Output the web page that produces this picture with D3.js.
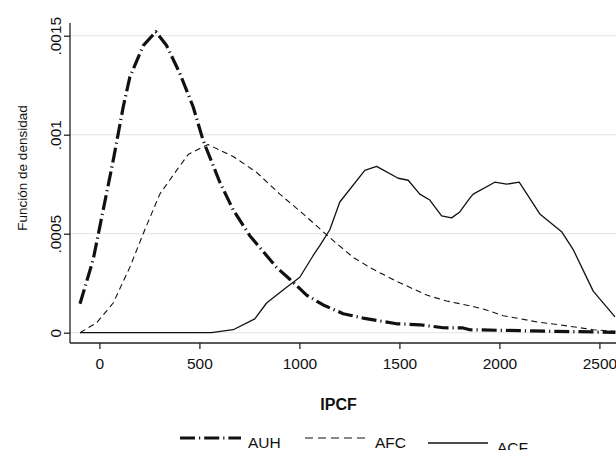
<!DOCTYPE html>
<html>
<head>
<meta charset="utf-8">
<script src="https://cdn.jsdelivr.net/npm/d3@7"></script>
<style>
  body { margin: 0; background: #fff; }
  svg { display: block; font-family: "Liberation Sans", Arial, sans-serif; }
</style>
</head>
<body>
<svg id="chart"></svg>
<script>
// density estimates: [IPCF, density]
const auh = [[-97,0.000146],[-31,0.00037],[19,0.00062],[69,0.00087],[119,0.00114],[152,0.00129],
  [219,0.00145],[282,0.00152],[336,0.00145],[402,0.00131],[469,0.00114],[519,0.00097],[602,0.00076],
  [669,0.00062],[752,0.00049],[802,0.00043],[886,0.00033],[952,0.00027],[1036,0.00019],[1119,0.00014],
  [1219,0.000096],[1318,0.000074],[1486,0.000045],[1602,0.00004],[1719,0.000025],[1818,0.000024],
  [1852,0.000015],[2268,0.000007],[2580,0.000002]];
const afc = [[-97,0],[-14,0.00005],[69,0.00015],[152,0.00033],[219,0.0005],[302,0.0007],[386,0.00082],
  [444,0.0009],[502,0.00093],[544,0.00095],[669,0.00089],[786,0.00081],[902,0.0007],[1019,0.0006],
  [1152,0.00048],[1269,0.00038],[1369,0.00032],[1486,0.00026],[1636,0.00019],[1736,0.00016],
  [1852,0.000136],[1919,0.00012],[2019,0.000086],[2202,0.000052],[2302,0.00004],[2469,0.000015],
  [2580,0.000007]];
const acf = [[-97,0],[560,0],[669,0.000015],[777,0.00007],[836,0.00015],[936,0.00023],[1002,0.00028],
  [1069,0.00039],[1102,0.00044],[1152,0.00052],[1202,0.00066],[1327,0.00082],[1386,0.00084],
  [1494,0.00078],[1544,0.00077],[1602,0.0007],[1652,0.00067],[1711,0.00059],[1761,0.00058],
  [1802,0.00061],[1852,0.00068],[1869,0.0007],[1977,0.00076],[2036,0.00075],[2099,0.00076],
  [2202,0.0006],[2311,0.00051],[2369,0.00042],[2469,0.00021],[2578,0.00008]];

const xTicks = [0, 500, 1000, 1500, 2000, 2500];
const yTicks = [0, 0.0005, 0.001, 0.0015];
const yTickLabels = ["0", ".0005", ".001", ".0015"];
const seriesNames = ["AUH", "AFC", "ACF"];

const W = 616, H = 450;
const svg = d3.select("#chart").attr("width", W).attr("height", H);

const x = d3.scaleLinear().domain([0, 2500]).range([99.4, 599.4]);
const y = d3.scaleLinear().domain([0, 0.0015]).range([332.7, 35.7]);

const axisX = 70, axisY = 343;

// gridlines
svg.append("g").selectAll("line")
  .data(yTicks)
  .enter().append("line")
  .attr("x1", axisX).attr("x2", W)
  .attr("y1", d => y(d)).attr("y2", d => y(d))
  .attr("stroke", "#e3eaea")
  .attr("stroke-width", 1.3);

// y axis
const gy = svg.append("g")
  .attr("transform", `translate(${axisX},0)`)
  .call(d3.axisLeft(y).tickValues(yTicks).tickSize(6).tickPadding(3)
    .tickFormat((d, i) => yTickLabels[i]));
gy.select(".domain").remove();
gy.append("line").attr("y1", 23).attr("y2", axisY).attr("stroke", "#222").attr("stroke-width", 1.3);
gy.selectAll(".tick line").attr("stroke", "#222").attr("stroke-width", 1.3);
gy.selectAll(".tick text")
  .attr("font-size", 15.5).attr("fill", "#111")
  .attr("transform", "rotate(-90)")
  .attr("x", 0).attr("y", -9)
  .attr("dy", 0)
  .attr("text-anchor", "middle");

// x axis
const gx = svg.append("g")
  .attr("transform", `translate(0,${axisY})`)
  .call(d3.axisBottom(x).tickValues(xTicks).tickSize(6).tickPadding(4).tickFormat(d3.format("d")));
gx.select(".domain").remove();
gx.append("line").attr("x1", axisX).attr("x2", W).attr("stroke", "#222").attr("stroke-width", 1.3);
gx.selectAll(".tick line").attr("stroke", "#222").attr("stroke-width", 1.3);
gx.selectAll(".tick text").attr("font-size", 15.5).attr("fill", "#111")
  .attr("y", 26).attr("dy", 0);

// axis titles
svg.append("text")
  .attr("x", 338.5).attr("y", 410)
  .attr("text-anchor", "middle")
  .attr("font-size", 16).attr("font-weight", "bold")
  .attr("fill", "#111")
  .text("IPCF");

svg.append("text")
  .attr("transform", "translate(27,168) rotate(-90)")
  .attr("text-anchor", "middle")
  .attr("font-size", 13.5)
  .attr("fill", "#111")
  .text("Función de densidad");

// lines
const styles = [
  { data: auh, width: 3.2, dash: "15,4,1.2,4" },
  { data: afc, width: 1.1, dash: "6,4" },
  { data: acf, width: 1.3, dash: null }
];
const line = d3.line().x(d => x(d[0])).y(d => y(d[1]));

styles.forEach(s => {
  svg.append("path")
    .datum(s.data)
    .attr("fill", "none")
    .attr("stroke", "#111")
    .attr("stroke-width", s.width)
    .attr("stroke-linejoin", "round")
    .attr("stroke-dasharray", s.dash)
    .attr("d", line);
});

// legend
const legendItems = [
  { x1: 180, x2: 241, ly: 438, tx: 248, ty: 448 },
  { x1: 305, x2: 366, ly: 438, tx: 375, ty: 448 },
  { x1: 428, x2: 488, ly: 443, tx: 497, ty: 453 }
];
const legend = svg.append("g");
legendItems.forEach((p, i) => {
  legend.append("line")
    .attr("x1", p.x1).attr("x2", p.x2)
    .attr("y1", p.ly).attr("y2", p.ly)
    .attr("stroke", "#111")
    .attr("stroke-width", styles[i].width)
    .attr("stroke-dasharray", i === 1 ? "8,5" : styles[i].dash);
  legend.append("text")
    .attr("x", p.tx).attr("y", p.ty)
    .attr("font-size", 15.5).attr("fill", "#111")
    .text(seriesNames[i]);
});
</script>
</body>
</html>
